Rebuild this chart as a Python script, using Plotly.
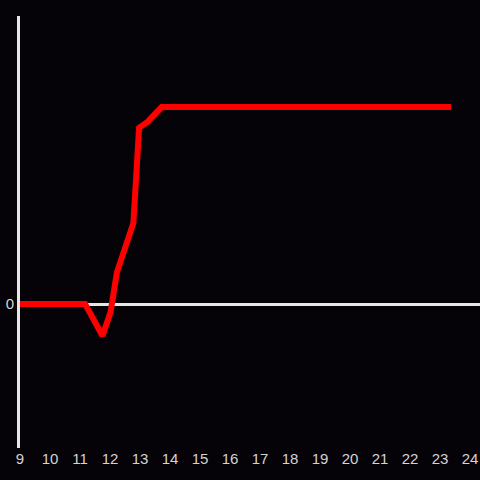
import plotly.graph_objects as go

# hours of the day and the series value
hours = [9.0, 11.17, 11.75, 12.02, 12.23, 12.78, 12.97, 13.25, 13.72, 23.37]
values = [0, 0, -16, -4, 16, 41, 89, 92, 99.5, 99.5]

x_ticks = list(range(9, 25))

bg = "#050307"
axis_color = "#e6e6e6"

fig = go.Figure()

fig.add_trace(go.Scatter(
    x=hours, y=values,
    mode="lines",
    line=dict(color="#ff0000", width=6),
    showlegend=False,
    hoverinfo="skip",
))

fig.update_layout(
    width=480, height=480,
    paper_bgcolor=bg,
    plot_bgcolor=bg,
    margin=dict(l=20, r=0, t=16, b=32),
    font=dict(family="Liberation Sans, Arial, sans-serif", size=15, color="#d4d4d4"),
    showlegend=False,
)

fig.update_xaxes(
    range=[9, 24.333],
    tickvals=x_ticks,
    ticktext=[str(t) for t in x_ticks],
    showgrid=False,
    zeroline=False,
    showline=False,
    ticks="",
    ticklen=0,
)

fig.update_yaxes(
    range=[-72.7, 145.5],
    tickvals=[0],
    ticktext=["0"],
    showgrid=False,
    zeroline=True,
    zerolinecolor=axis_color,
    zerolinewidth=3,
    showline=True,
    linecolor=axis_color,
    linewidth=3,
    ticks="",
    ticklen=0,
)

# drop the page margin so the figure fills the window
fig.write_html(
    "out.html",
    config={"displayModeBar": False},
    post_script="document.body.style.margin='0';document.body.style.background='%s';" % bg,
)
